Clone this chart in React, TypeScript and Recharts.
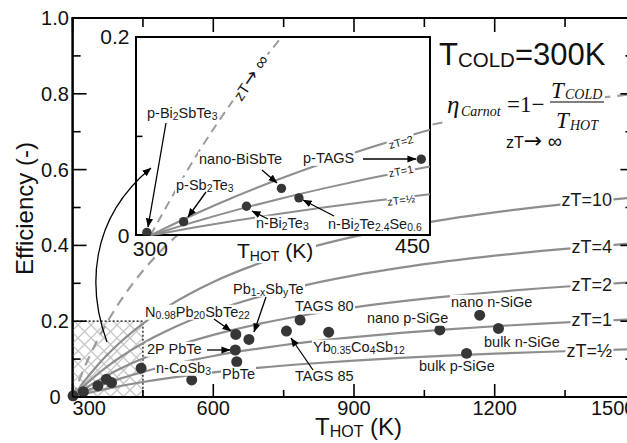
import React from 'react';
import { ComposedChart, Line, Scatter, XAxis, YAxis, ReferenceArea } from 'recharts';

// T_hot grid (K) and efficiency curves (T_cold = 300 K)
const temps = [300, 325, 350, 375, 400, 425, 450, 475, 500, 550, 600, 700, 800, 900, 1000, 1100, 1200, 1300, 1400, 1500];
const carnot = [0, 0.0769, 0.1429, 0.2, 0.25, 0.2941, 0.3333, 0.3684, 0.4, 0.4545, 0.5, 0.5714, 0.625, 0.6667, 0.7, 0.7273, 0.75, 0.7692, 0.7857, 0.8];
const zt10 = [0, 0.042, 0.0793, 0.1126, 0.1424, 0.1694, 0.1939, 0.2162, 0.2366, 0.2726, 0.3035, 0.3535, 0.3922, 0.4231, 0.4484, 0.4694, 0.4871, 0.5023, 0.5155, 0.527];
const zt4 = [0, 0.0301, 0.0571, 0.0814, 0.1035, 0.1236, 0.1419, 0.1588, 0.1743, 0.202, 0.2259, 0.2651, 0.2959, 0.3207, 0.3412, 0.3583, 0.3729, 0.3854, 0.3963, 0.4059];
const zt2 = [0, 0.0212, 0.0404, 0.0578, 0.0737, 0.0883, 0.1017, 0.1141, 0.1256, 0.1461, 0.164, 0.1936, 0.2171, 0.2363, 0.2522, 0.2656, 0.277, 0.2869, 0.2955, 0.3031];
const zt1 = [0, 0.0136, 0.0261, 0.0374, 0.0478, 0.0575, 0.0664, 0.0746, 0.0823, 0.0961, 0.1082, 0.1284, 0.1447, 0.158, 0.1691, 0.1786, 0.1867, 0.1937, 0.1998, 0.2053];
const ztHalf = [0, 0.008, 0.0154, 0.0222, 0.0284, 0.0342, 0.0396, 0.0446, 0.0493, 0.0577, 0.0651, 0.0777, 0.0878, 0.0961, 0.1032, 0.1091, 0.1143, 0.1188, 0.1227, 0.1262];

// materials in the main chart
const mainT = [301, 323, 354, 372, 383, 446, 554, 648, 676, 647, 650, 756, 785, 846, 1083, 1168, 1208, 1140];
const mainEta = [0.003, 0.014, 0.03, 0.047, 0.038, 0.076, 0.045, 0.165, 0.152, 0.124, 0.093, 0.174, 0.203, 0.171, 0.177, 0.216, 0.181, 0.115];

// materials in the inset
const insetT = [298, 319, 355, 375, 385, 455];
const insetEta = [0.003, 0.014, 0.0295, 0.0476, 0.038, 0.077];

const xTicks = [300, 450, 600, 750, 900, 1050, 1200, 1350, 1500];
const xLabelTicks = [300, 600, 900, 1200, 1500];
const yTicks = [0, 0.1, 0.2, 0.3, 0.4, 0.5, 0.6, 0.7, 0.8, 0.9, 1];
const yLabelTicks = [0, 0.2, 0.4, 0.6, 0.8, 1];
const insetXTicks = [300, 450];
const insetYTicks = [0, 0.1, 0.2];

const rows = temps.map((T, i) => ({
  T, carnot: carnot[i], z10: zt10[i], z4: zt4[i], z2: zt2[i], z1: zt1[i], zh: ztHalf[i],
}));
const mainPts = mainT.map((T, i) => ({ T, eta: mainEta[i] }));
const insetPts = insetT.map((T, i) => ({ T, eta: insetEta[i] }));

const SANS = '"Liberation Sans", Arial, sans-serif';
const SERIF = '"Liberation Serif", "Times New Roman", serif';
const CURVE = '#8e8e8e';
const DOT = '#363636';

// main plot box (px) – used only for the top/right frame decoration
const PL = 72.6, PR = 635.4, PT = 18, PB = 397;
const xPix = (t: number) => PL + ((t - 300) / 1200) * (PR - PL);
const yPix = (v: number) => PB - v * (PB - PT);

const BottomTick = (p: any) => {
  const v = p.payload.value;
  const major = xLabelTicks.includes(v);
  const anchor = v === 300 ? 'start' : v === 1500 ? 'end' : 'middle';
  return (
    <g>
      <line x1={p.x} x2={p.x} y1={p.y} y2={p.y - (major ? 13 : 7)} stroke="#000" strokeWidth={1.6} />
      {major && (
        <text x={p.x} y={p.y + 18} textAnchor={anchor} fontSize={20} fontFamily={SANS} fill="#111">{v}</text>
      )}
    </g>
  );
};

const LeftTick = (p: any) => {
  const v = p.payload.value;
  const major = yLabelTicks.includes(v);
  return (
    <g>
      <line x1={p.x} x2={p.x + (major ? 14 : 8)} y1={p.y} y2={p.y} stroke="#000" strokeWidth={1.6} />
      {major && (
        <text x={p.x - 17.6} y={p.y + 7} textAnchor="middle" fontSize={20} fontFamily={SANS} fill="#111">
          {v === 0 ? '0' : v.toFixed(1)}
        </text>
      )}
    </g>
  );
};

const InsetLeftTick = (p: any) => {
  const v = p.payload.value;
  if (v === 0.1) return <line x1={p.x} x2={p.x + 7} y1={p.y} y2={p.y} stroke="#000" strokeWidth={1.6} />;
  return (
    <text x={p.x - 6} y={p.y + 7} textAnchor="end" fontSize={21} fontFamily={SANS} fill="#111">
      {v === 0 ? '0' : v.toFixed(1)}
    </text>
  );
};

const InsetBottomTick = (p: any) => (
  <text x={p.x} y={p.y + (p.payload.value === 300 ? 20 : 17)} textAnchor="middle" fontSize={21} fontFamily={SANS} fill="#111">
    {p.payload.value}
  </text>
);

const S = ({ children }: any) => (
  <sub style={{ fontSize: '0.72em', verticalAlign: '-0.25em', lineHeight: 0 }}>{children}</sub>
);

const Lbl = ({ x, y, size = 14.5, right = false, children }: any) => (
  <div style={{
    position: 'absolute', left: x - 1, top: y,
    transform: right ? 'translate(-100%, -50%)' : 'translateY(-50%)',
    fontSize: size, lineHeight: 1, whiteSpace: 'nowrap',
    background: '#fff', padding: '0 1px', color: '#1a1a1a', fontFamily: SANS,
  }}>
    {children}
  </div>
);

const RotLbl = ({ x, y, angle, w, h, size, children }: any) => (
  <g transform={`translate(${x},${y}) rotate(${angle})`}>
    <rect x={-w / 2} y={-h / 2} width={w} height={h} fill="#fff" />
    <text textAnchor="middle" dy="0.36em" fontSize={size} fontFamily={SANS} fill="#1a1a1a">{children}</text>
  </g>
);

const Arrow = ({ size }: any) => <tspan fontSize={size} fontFamily='"DejaVu Sans", sans-serif'>→</tspan>;

const FRAME = { stroke: '#000', strokeWidth: 2 };

export default function App() {
  return (
    <div style={{
      position: 'fixed', left: 0, top: 0, width: 627, height: 443,
      overflow: 'hidden', background: '#fff', fontFamily: SANS,
    }}>
      <svg width={0} height={0} style={{ position: 'absolute' }}>
        <defs>
          <pattern id="xhatch" width={13} height={13} patternUnits="userSpaceOnUse">
            <path d="M0,0 L13,13 M13,0 L0,13" stroke="#c6c6c6" strokeWidth={1.3} fill="none" />
          </pattern>
          <marker id="ah" viewBox="0 0 10 10" refX={9.5} refY={5} markerWidth={9} markerHeight={9}
            markerUnits="userSpaceOnUse" orient="auto">
            <path d="M0,1 L10,5 L0,9 z" fill="#000" />
          </marker>
        </defs>
      </svg>

      {/* main chart */}
      <div style={{ position: 'absolute', left: 0, top: 0 }}>
        <ComposedChart width={660} height={443} data={rows}
          margin={{ top: 18, right: 24.6, left: 0, bottom: 0 }}>
          <XAxis dataKey="T" type="number" domain={[300, 1500]} ticks={xTicks} interval={0}
            height={46} tickSize={0} tickMargin={0} tickLine={false}
            axisLine={FRAME} tick={(p: any) => <BottomTick {...p} />} />
          <YAxis type="number" domain={[0, 1]} ticks={yTicks} interval={0} width={72.6}
            tickSize={0} tickMargin={0} tickLine={false}
            axisLine={FRAME} tick={(p: any) => <LeftTick {...p} />} />
          {/* full plot frame drawn through the chart's own scales */}
          <ReferenceArea x1={300} x2={1500} y1={0} y2={1} fill="none" fillOpacity={0}
            stroke="#000" strokeWidth={2} />
          <ReferenceArea x1={300} x2={450} y1={0} y2={0.2} fill="url(#xhatch)" fillOpacity={1}
            stroke="#000" strokeWidth={1.2} strokeDasharray="2 2" />
          <Line dataKey="carnot" type="monotone" dot={false} stroke="#9c9c9c" strokeWidth={2.2}
            strokeDasharray="10 7" isAnimationActive={false} />
          <Line dataKey="z10" type="monotone" dot={false} stroke={CURVE} strokeWidth={2.2} isAnimationActive={false} />
          <Line dataKey="z4" type="monotone" dot={false} stroke={CURVE} strokeWidth={2.2} isAnimationActive={false} />
          <Line dataKey="z2" type="monotone" dot={false} stroke={CURVE} strokeWidth={2.2} isAnimationActive={false} />
          <Line dataKey="z1" type="monotone" dot={false} stroke={CURVE} strokeWidth={2.2} isAnimationActive={false} />
          <Line dataKey="zh" type="monotone" dot={false} stroke={CURVE} strokeWidth={2.2} isAnimationActive={false} />
          <Scatter data={mainPts} dataKey="eta" isAnimationActive={false}
            shape={(p: any) => <circle cx={p.cx} cy={p.cy} r={5.5} fill={DOT} />} />
        </ComposedChart>
      </div>

      {/* main labels */}
      <Lbl x={145} y={312}>N<S>0.98</S>Pb<S>20</S>SbTe<S>22</S></Lbl>
      <Lbl x={233} y={289}>Pb<S>1-x</S>Sb<S>y</S>Te</Lbl>
      <Lbl x={295} y={306}>TAGS 80</Lbl>
      <Lbl x={147} y={349}>2P PbTe</Lbl>
      <Lbl x={156} y={368}>n-CoSb<S>3</S></Lbl>
      <Lbl x={222} y={374}>PbTe</Lbl>
      <Lbl x={295} y={376}>TAGS 85</Lbl>
      <Lbl x={313} y={347}>Yb<S>0.35</S>Co<S>4</S>Sb<S>12</S></Lbl>
      <Lbl x={367} y={318}>nano p-SiGe</Lbl>
      <Lbl x={451} y={302}>nano n-SiGe</Lbl>
      <Lbl x={484} y={342}>bulk n-SiGe</Lbl>
      <Lbl x={419} y={366}>bulk p-SiGe</Lbl>
      <Lbl x={614} y={200} size={18} right>zT=10</Lbl>
      <Lbl x={614} y={247} size={18} right>zT=4</Lbl>
      <Lbl x={614} y={285} size={18} right>zT=2</Lbl>
      <Lbl x={614} y={320} size={18} right>zT=1</Lbl>
      <Lbl x={614} y={351} size={18} right>zT=½</Lbl>

      {/* titles and formula */}
      <svg width={627} height={443} style={{ position: 'absolute', left: 0, top: 0, pointerEvents: 'none' }}>
        <text transform="translate(32.5,208.5) rotate(-90)" textAnchor="middle" fontSize={24}
          fontFamily={SANS} fill="#111">Efficiency (-)</text>
        <text x={315} y={435} fontSize={24} fontFamily={SANS} fill="#111">
          T<tspan fontSize={16} dy={2}>HOT</tspan><tspan fontSize={24} dy={-2}>{'\u00a0(K)'}</tspan>
        </text>
        <text x={439} y={65} fontSize={31} fontFamily={SANS} fill="#111">
          T<tspan fontSize={20.5} dy={1.5}>COLD</tspan><tspan fontSize={31} dy={-1.5}>=300K</tspan>
        </text>
        <rect x={446} y={80} width={159} height={52} fill="#fff" />
        <g fontFamily={SERIF} fill="#111">
          <text x={447} y={113} fontStyle="italic" fontSize={25}>η</text>
          <text x={461} y={116} fontStyle="italic" fontSize={14}>Carnot</text>
          <text x={507} y={112} fontSize={23}>=1−</text>
          <text x={551} y={98} fontStyle="italic" fontSize={23}>T</text>
          <text x={565} y={99} fontStyle="italic" fontSize={14}>COLD</text>
          <line x1={550} x2={604} y1={102} y2={102} stroke="#000" strokeWidth={1.2} />
          <text x={556} y={128} fontStyle="italic" fontSize={23}>T</text>
          <text x={570} y={130} fontStyle="italic" fontSize={14}>HOT</text>
        </g>
        <text x={506} y={148} fontSize={16} fontFamily={SANS} fill="#111">zT<Arrow size={22} /><tspan fontSize={20}> ∞</tspan></text>
      </svg>

      {/* inset */}
      <div style={{
        position: 'absolute', left: 134.5, top: 36.3, width: 296.5, height: 200.2,
        boxSizing: 'border-box', border: '2px solid #000', background: '#fff',
      }} />
      <div style={{ position: 'absolute', left: 0, top: 0 }}>
        <ComposedChart width={470} height={270} data={rows}
          margin={{ top: 37.3, right: 40, left: 0, bottom: 0 }}>
          <XAxis dataKey="T" type="number" domain={[291.5, 460]} allowDataOverflow ticks={insetXTicks}
            interval={0} height={34.5} tickSize={0} tickMargin={0} tickLine={false} axisLine={false}
            tick={(p: any) => <InsetBottomTick {...p} />} />
          <YAxis type="number" domain={[0, 0.2]} allowDataOverflow ticks={insetYTicks} interval={0}
            width={135.5} tickSize={0} tickMargin={0} tickLine={false} axisLine={false}
            tick={(p: any) => <InsetLeftTick {...p} />} />
          <Line dataKey="carnot" type="monotone" dot={false} stroke="#9c9c9c" strokeWidth={2}
            strokeDasharray="9 6" isAnimationActive={false} />
          <Line dataKey="z2" type="monotone" dot={false} stroke={CURVE} strokeWidth={2} isAnimationActive={false} />
          <Line dataKey="z1" type="monotone" dot={false} stroke={CURVE} strokeWidth={2} isAnimationActive={false} />
          <Line dataKey="zh" type="monotone" dot={false} stroke={CURVE} strokeWidth={2} isAnimationActive={false} />
          <Scatter data={insetPts} dataKey="eta" isAnimationActive={false}
            shape={(p: any) => <circle cx={p.cx} cy={p.cy} r={4.7} fill={DOT} />} />
        </ComposedChart>
      </div>

      <Lbl x={147} y={113}>p-Bi<S>2</S>SbTe<S>3</S></Lbl>
      <Lbl x={176} y={185}>p-Sb<S>2</S>Te<S>3</S></Lbl>
      <Lbl x={199} y={159}>nano-BiSbTe</Lbl>
      <Lbl x={303} y={158}>p-TAGS</Lbl>
      <Lbl x={256} y={223}>n-Bi<S>2</S>Te<S>3</S></Lbl>
      <Lbl x={328} y={224}>n-Bi<S>2</S>Te<S>2.4</S>Se<S>0.6</S></Lbl>

      <svg width={627} height={443} style={{ position: 'absolute', left: 0, top: 0, pointerEvents: 'none' }}>
        <RotLbl x={401} y={142} angle={-15} w={28} h={12} size={11}>zT=2</RotLbl>
        <RotLbl x={401} y={171} angle={-11} w={28} h={12} size={11}>zT=1</RotLbl>
        <RotLbl x={401} y={200} angle={-7} w={28} h={12} size={11}>zT=½</RotLbl>
        <RotLbl x={251} y={78} angle={-56} w={58} h={18} size={15}>zT<Arrow size={19} /><tspan fontSize={18}> ∞</tspan></RotLbl>
        <rect x={236} y={239} width={80} height={24} fill="#fff" />
        <text x={237} y={258} fontSize={21} fontFamily={SANS} fill="#111">
          T<tspan fontSize={14} dy={3}>HOT</tspan><tspan fontSize={21} dy={-3}>{'\u00a0(K)'}</tspan>
        </text>

        <g stroke="#000" strokeWidth={1.3} fill="none">
          <line x1={214} y1={319} x2={231} y2={331} markerEnd="url(#ah)" />
          <line x1={266} y1={297} x2={254} y2={332} markerEnd="url(#ah)" />
          <line x1={207} y1={350} x2={230} y2={350} markerEnd="url(#ah)" />
          <line x1={313} y1={370} x2={291} y2={338} markerEnd="url(#ah)" />
          <line x1={166} y1={123} x2={148} y2={227} markerEnd="url(#ah)" />
          <line x1={206} y1={192} x2={188} y2={217} markerEnd="url(#ah)" />
          <line x1={262} y1={170} x2={277} y2={183} markerEnd="url(#ah)" />
          <line x1={363} y1={159} x2={416} y2={159} markerEnd="url(#ah)" />
          <line x1={268} y1={219} x2={252} y2={211} markerEnd="url(#ah)" />
          <line x1={334} y1={216} x2={303} y2={200} markerEnd="url(#ah)" />
          <path d="M107,342 C88,290 88,220 151,168" markerEnd="url(#ah)" />
        </g>
      </svg>

      {/* top and right inward ticks of the main plot, painted last */}
      <svg width={627} height={443} style={{ position: 'absolute', left: 0, top: 0, zIndex: 10, pointerEvents: 'none' }}>
        <line x1={PL - 1} x2={PR} y1={PT} y2={PT} stroke="#000" strokeWidth={2} />
        {xTicks.map((v) => (
          <line key={'t' + v} x1={xPix(v)} x2={xPix(v)} y1={PT} y2={PT + (xLabelTicks.includes(v) ? 14 : 9)}
            stroke="#000" strokeWidth={1.6} />
        ))}
        {yTicks.map((v) => (
          <line key={'r' + v} x1={PR} x2={PR - (yLabelTicks.includes(v) ? 15 : 10)} y1={yPix(v)} y2={yPix(v)}
            stroke="#000" strokeWidth={1.6} />
        ))}
      </svg>
    </div>
  );
}
